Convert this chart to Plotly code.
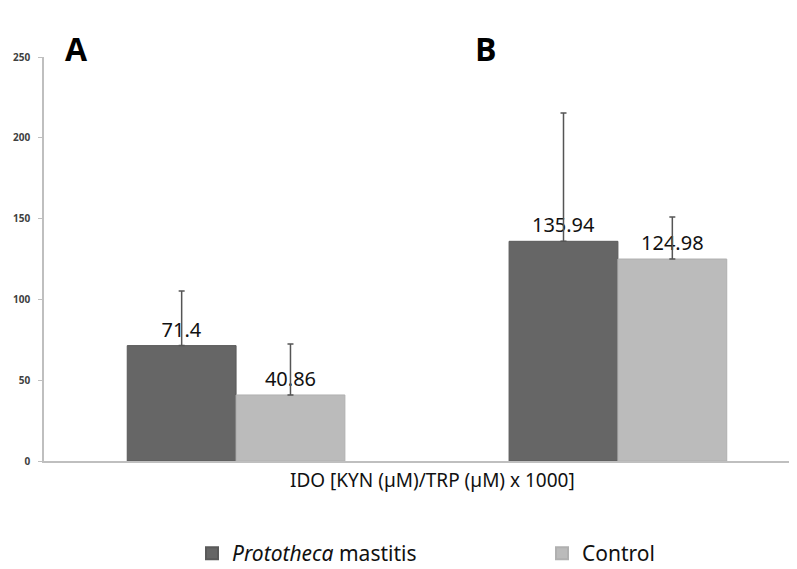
import plotly.graph_objects as go

groups = ["A", "B"]
series_names = ["Prototheca mastitis", "Control"]
prototheca = [71.4, 135.94]
control = [40.86, 124.98]
prototheca_err = [33.8, 79.4]
control_err = [31.5, 26.0]
y_ticks = [0, 50, 100, 150, 200, 250]
x_title = "IDO [KYN (µM)/TRP (µM) x 1000]"

dark = "#666666"
light = "#bbbbbb"
label_font = dict(size=20, color="#111111", family="Noto Sans")

fig = go.Figure()
fig.add_trace(go.Bar(
    x=groups, y=prototheca, name="<i>Prototheca</i> mastitis",
    marker=dict(color=dark, line=dict(color="#5a5a5a", width=1)),
    error_y=dict(type="data", symmetric=False, array=prototheca_err, arrayminus=[0, 0],
                 color="#555555", thickness=1.5, width=3),
    text=[str(v) for v in prototheca], textposition="outside",
    textfont=label_font, cliponaxis=False,
))
fig.add_trace(go.Bar(
    x=groups, y=control, name="Control",
    marker=dict(color=light, line=dict(color="#b0b0b0", width=1)),
    error_y=dict(type="data", symmetric=False, array=control_err, arrayminus=[0, 0],
                 color="#555555", thickness=1.5, width=3),
    text=[str(v) for v in control], textposition="outside",
    textfont=label_font, cliponaxis=False,
))

fig.update_layout(
    width=797, height=569,
    margin=dict(l=36, r=8, t=49, b=116, autoexpand=False),
    paper_bgcolor="white", plot_bgcolor="white",
    barmode="group", bargap=0.43, bargroupgap=0,
    font=dict(family="Noto Sans", color="#222222"),
    showlegend=True,
    legend=dict(orientation="h", x=(192 - 44) / 753, xanchor="left",
                y=(461 - 533) / 404, yanchor="top",
                entrywidth=305, font=dict(size=21, color="#111111", family="Noto Sans"),
                itemsizing="constant", traceorder="normal"),
    xaxis=dict(range=[-0.503, 1.469], showticklabels=False, ticks="",
               showline=True, linecolor="#bfbfbf", linewidth=1.5, showgrid=False, zeroline=False),
    yaxis=dict(range=[0, 250], tickvals=y_ticks, ticks="outside", ticklen=4,
               tickcolor="#bfbfbf", showline=True, linecolor="#bfbfbf", linewidth=1.5,
               showgrid=False, zeroline=False, ticklabelstandoff=6,
               tickfont=dict(size=10, color="#404040", family="Open Sans", weight="bold")),
    annotations=[
        dict(text="<b>A</b>", x=(63 - 44) / 753, y=(461 - 25) / 404, xref="paper", yref="paper",
             showarrow=False, font=dict(size=32, color="black", family="Open Sans")),
        dict(text="<b>B</b>", x=(486 - 44) / 753, y=(461 - 25) / 404, xref="paper", yref="paper",
             showarrow=False, font=dict(size=32, color="black", family="Open Sans")),
        dict(text=x_title, x=(432 - 44) / 753, y=(461 - 495) / 404, xref="paper", yref="paper",
             showarrow=False, font=dict(size=19, color="#111111", family="Noto Sans")),
    ],
)

fig.write_html("out.html")
